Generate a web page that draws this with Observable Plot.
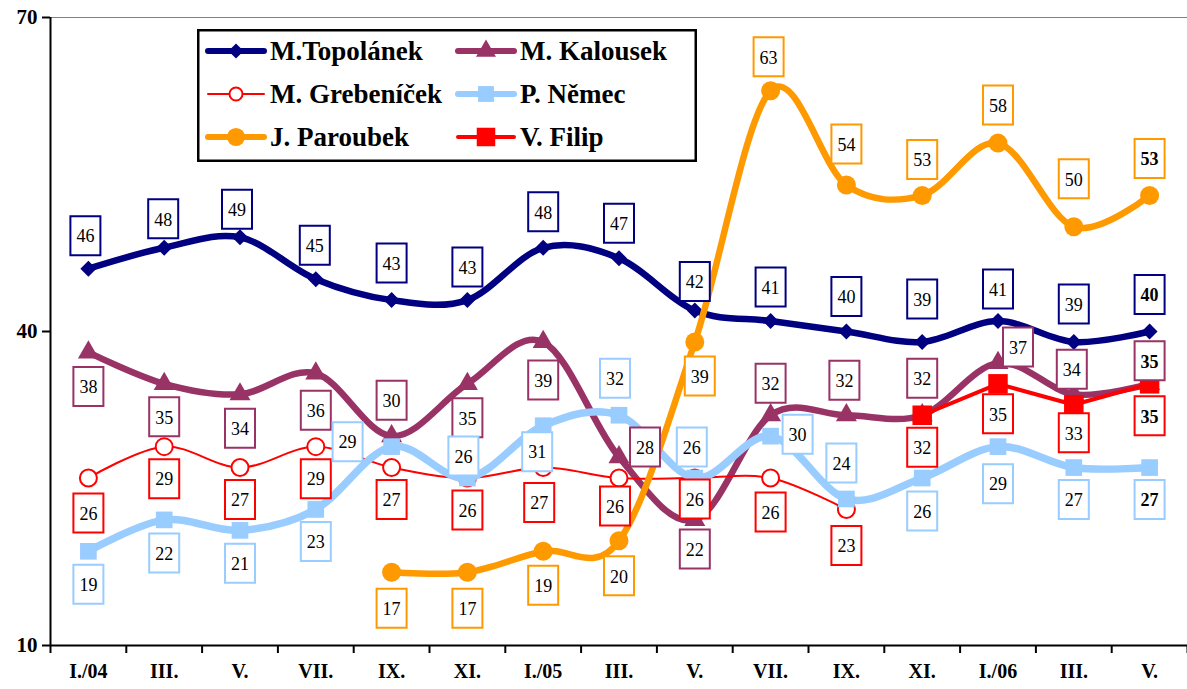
<!DOCTYPE html>
<html><head><meta charset="utf-8">
<script src="https://cdn.jsdelivr.net/npm/d3@7"></script>
<script src="https://cdn.jsdelivr.net/npm/@observablehq/plot@0.6"></script>
<style>
body{margin:0;background:#fff;}
#wrap{position:relative;width:1187px;height:689px;overflow:hidden;}
#legend{position:absolute;left:197px;top:29px;}
svg, svg text{font-family:"Liberation Serif","Times New Roman",Times,"DejaVu Serif",serif !important;}
</style></head><body><div id="wrap"><div id="chart"></div><div id="legend"></div></div>
<script>
// ---- data ----
const months = ["I./04","III.","V.","VII.","IX.","XI.","I./05","III.","V.","VII.","IX.","XI.","I./06","III.","V."];
const seriesNames = ["M.Topolánek","M. Kalousek","M. Grebeníček","P. Němec","J. Paroubek","V. Filip"];
const topolanek  = [46,48,49,45,43,43,48,47,42,41,40,39,41,39,40];
const kalousek   = [38,35,34,36,30,35,39,28,22,32,32,32,37,34,35];
const grebenicek = [26,29,27,29,27,26,27,26,26,26,23,null,null,null,null];
const nemec      = [19,22,21,23,29,26,31,32,26,30,24,26,29,27,27];
const paroubek   = [null,null,null,null,17,17,19,20,39,63,54,53,58,50,53];
const filip      = [null,null,null,null,null,null,null,null,null,null,null,32,35,33,35];
const yTicks = [10,40,70];

// ---- layout / styling (label offsets in px from the point) ----
const FONT = '"Liberation Serif","Times New Roman",Times,"DejaVu Serif",serif';
const W = 1187, H = 689, mt = 17, mb = 44, ml = 50, mr = 0;
const pxY = (H - mt - mb) / 60, pxX = (W - ml - mr) / 15;
const labelOffsets = {
  topolanek: [[-3,-33],[-1,-29],[-3,-28],[-1,-34],[0,-37],[0,-33],[0,-36],[0,-35],[0,-29],[0,-34],[0,-35],[0,-43],[0,-32],[0,-38],[0,-37]],
  kalousek: [[0,34],[0,33],[0,34],[0,37],[0,-36],[0,34],[0,38],[26,-10],[0,29],[0,-32],[-2,-35],[0,-37],[20,-16],[-2,-25],[0,-23]],
  grebenicek: [[0,35],[0,32],[0,32],[0,32],[0,32],[0,32],[-4,35],[-4,28],[0,21],[0,34],[0,36]],
  nemec: [[0,33],[0,33],[0,33],[0,32],[-44,-5],[-4,-22],[-6,26],[-4,-37],[-3,-31],[27,-2],[-5,-36],[0,33],[0,37],[0,32],[0,32]],
  paroubek: [null,null,null,null,[0,36],[0,36],[0,34],[0,35],[5,34],[-2,-34],[0,-41],[0,-36],[0,-38],[0,-48],[0,-37]],
  filip: [null,null,null,null,null,null,null,null,null,null,null,[0,32],[0,30],[0,28],[0,32]]
};
const defs = [
  {key:"topolanek", name:seriesNames[0], values:topolanek, color:"#000080", sw:6.5, symbol:"diamond2", r:7.2, fill:"#000080", mstroke:"none", msw:0, curve:"cardinal"},
  {key:"kalousek", name:seriesNames[1], values:kalousek, color:"#993366", sw:6.5, symbol:"triangle", r:7.8, fill:"#993366", mstroke:"none", msw:0, curve:"cardinal"},
  {key:"grebenicek", name:seriesNames[2], values:grebenicek, color:"#FF0000", sw:2, symbol:"circle", r:8.5, fill:"#FFFFFF", mstroke:"#FF0000", msw:2, curve:"cardinal"},
  {key:"nemec", name:seriesNames[3], values:nemec, color:"#99CCFF", sw:7.5, symbol:"square", r:9.4, fill:"#99CCFF", mstroke:"none", msw:0, curve:"cardinal"},
  {key:"paroubek", name:seriesNames[4], values:paroubek, color:"#FF9900", sw:6.5, symbol:"circle", r:9.5, fill:"#FF9900", mstroke:"none", msw:0, curve:"cardinal"},
  {key:"filip", name:seriesNames[5], values:filip, color:"#FF0000", sw:4, symbol:"square", r:11, fill:"#FF0000", mstroke:"none", msw:0, curve:"linear"}
];

const boxSymbol = {draw(ctx){ ctx.moveTo(-15,-19.5); ctx.lineTo(15,-19.5); ctx.lineTo(15,19.5); ctx.lineTo(-15,19.5); ctx.closePath(); }};

const marks = [];
const labels = [];
for (const s of defs) {
  const rows = s.values.map((v,i) => ({i, v})).filter(d => d.v != null);
  marks.push(Plot.line(rows, {x:"i", y:"v", stroke:s.color, strokeWidth:s.sw, curve:s.curve, strokeLinejoin:"round", strokeLinecap:"round"}));
  marks.push(Plot.dot(rows, {x:"i", y:"v", symbol:s.symbol, r:s.r, fill:s.fill, stroke:s.mstroke, strokeWidth:s.msw}));
  for (const d of rows) {
    const [dx, dy] = labelOffsets[s.key][d.i];
    labels.push({v:d.v, i:d.i, lx:d.i + dx/pxX, ly:d.v - dy/pxY, color:s.color, last:d.i === months.length - 1});
  }
}
marks.push(Plot.dot(labels, {x:"lx", y:"ly", symbol:boxSymbol, r:5, fill:"white", stroke:d => d.color, strokeWidth:2}));
marks.push(Plot.text(labels.filter(d => !d.last), {x:"lx", y:"ly", text:d => String(d.v), fontSize:18, fontFamily:FONT, fontWeight:"normal", fill:"black", dy:1}));
marks.push(Plot.text(labels.filter(d => d.last), {x:"lx", y:"ly", text:d => String(d.v), fontSize:18, fontFamily:FONT, fontWeight:"bold", fill:"black", dy:1}));

const chart = Plot.plot({
  width: W, height: H, marginTop: mt, marginBottom: mb, marginLeft: ml, marginRight: mr,
  style: {fontFamily:FONT, fontSize:"20px", fontWeight:"bold", background:"white", color:"black", overflow:"visible"},
  x: {type:"linear", domain:[-0.5, months.length - 0.5]},
  y: {domain:[10,70]},
  marks: [
    Plot.ruleY([70], {stroke:"#808080", strokeWidth:1}),
    ...marks,
    Plot.ruleX([-0.5], {stroke:"black", strokeWidth:2}),
    Plot.ruleY([10], {stroke:"black", strokeWidth:2}),
    Plot.axisY({ticks:yTicks, tickSize:8, tickPadding:5, strokeWidth:2, fontSize:21, fontFamily:FONT, fontWeight:"bold"}),
    Plot.axisX({ticks:d3.range(-0.5, months.length, 1), tickSize:8, strokeWidth:2, tickFormat:() => ""}),
    Plot.axisX({ticks:d3.range(months.length), tickSize:0, tickPadding:18, tickFormat:i => months[i], fontSize:20, fontFamily:FONT, fontWeight:"bold"})
  ]
});
document.getElementById("chart").appendChild(chart);

// ---- legend (overlay box inside plot area) ----
const lw = 500, lh = 133;
const lsvg = d3.select("#legend").append("svg").attr("width", lw).attr("height", lh)
  .style("font-family", FONT).style("font-weight","bold").style("font-size","27px");
lsvg.append("rect").attr("x",1.25).attr("y",1.25).attr("width",lw-2.5).attr("height",lh-2.5).attr("fill","white").attr("stroke","black").attr("stroke-width",2.5);
const symbolMap = {diamond2:d3.symbolDiamond2, triangle:d3.symbolTriangle, circle:d3.symbolCircle, square:d3.symbolSquare};
defs.forEach((s, k) => {
  const col = k % 2, row = Math.floor(k / 2);
  const x0 = col ? 258 : 8, cy = 22 + row * 43;
  const g = lsvg.append("g");
  g.append("line").attr("x1", x0 + 3).attr("x2", x0 + 59).attr("y1", cy).attr("y2", cy)
    .attr("stroke", s.color).attr("stroke-width", Math.min(s.sw, 6)).attr("stroke-linecap","round");
  const r = s.symbol === "circle" && s.fill === "#FFFFFF" ? 6.5 : s.r * 0.95;
  g.append("path").attr("transform", `translate(${x0 + 31},${cy})`)
    .attr("d", d3.symbol(symbolMap[s.symbol], Math.PI * r * r)())
    .attr("fill", s.fill).attr("stroke", s.mstroke).attr("stroke-width", s.msw);
  g.append("text").attr("x", x0 + 65).attr("y", cy).attr("dy", "0.35em").text(s.name);
});
</script></body></html>
